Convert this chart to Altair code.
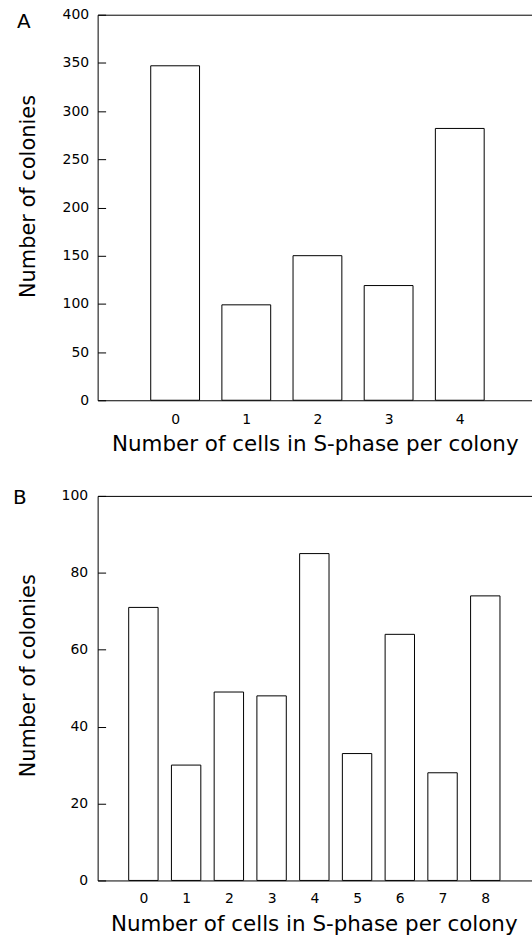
import altair as alt
import pandas as pd

# ---- data ----
cells_a = [0, 1, 2, 3, 4]
colonies_a = [347, 99, 150, 119, 282]
y_ticks_a = [0, 50, 100, 150, 200, 250, 300, 350, 400]

cells_b = [0, 1, 2, 3, 4, 5, 6, 7, 8]
colonies_b = [71, 30, 49, 48, 85, 33, 64, 28, 74]
y_ticks_b = [0, 20, 40, 60, 80, 100]

x_title = "Number of cells in S-phase per colony"
y_title = "Number of colonies"

FONT = "DejaVu Sans"
PLOT_W = 437


def panel(cells, counts, xdomain, ydomain, yticks, height, bar_size, letter,
          letter_dx, letter_dy, y_label_pad, x_label_pad, x_title_x, y_title_y):
    df = pd.DataFrame({"cells": cells, "colonies": counts})
    bars = (
        alt.Chart(df)
        .mark_bar(size=bar_size, fill="white", stroke="black", strokeWidth=1)
        .encode(
            x=alt.X(
                "cells:Q",
                scale=alt.Scale(domain=xdomain, nice=False, zero=False),
                axis=alt.Axis(
                    values=cells, format="d", title=x_title,
                    domain=False, ticks=False, tickSize=0, grid=False,
                    labelFlush=False, labelOverlap=False,
                    labelPadding=x_label_pad, labelFont=FONT, labelFontSize=14,
                    labelColor="black",
                    titleFont=FONT, titleFontSize=21.5, titleFontWeight="normal",
                    titleColor="black", titleX=x_title_x, titleY=50,
                    titleBaseline="alphabetic", titleAlign="center",
                ),
            ),
            y=alt.Y(
                "colonies:Q",
                scale=alt.Scale(domain=ydomain, nice=False),
                axis=alt.Axis(
                    values=yticks, format="d", title=y_title,
                    domain=False, ticks=True, tickSize=8, tickColor="black",
                    tickWidth=1, offset=-8, grid=False,
                    labelOverlap=False, labelFlush=False,
                    labelPadding=y_label_pad, labelFont=FONT, labelFontSize=14,
                    labelColor="black",
                    titleFont=FONT, titleFontSize=21, titleFontWeight="normal",
                    titleColor="black", titleX=-77, titleY=y_title_y,
                    titleBaseline="middle", titleAlign="center", titleAngle=270,
                ),
            ),
        )
    )
    tag = (
        alt.Chart(pd.DataFrame({"panel": [letter]}))
        .mark_text(font=FONT, fontSize=20, color="black", align="left",
                   baseline="alphabetic")
        .encode(text="panel:N", x=alt.value(letter_dx), y=alt.value(letter_dy))
    )
    return alt.layer(bars, tag).properties(width=PLOT_W, height=height)


chart_a = panel(cells_a, colonies_a, [-1.019, 4.959], [0, 400], y_ticks_a,
                387, 49, "A", -81, 13, 9, 12.6, 218, 182)
chart_b = panel(cells_b, colonies_b, [-0.954, 9.0], [0, 100], y_ticks_b,
                386, 29.5, "B", -85, 8, 10, 11, 217, 180)

chart = (
    alt.vconcat(chart_a, chart_b, spacing=96, bounds="flush")
    .properties(
        padding={"left": 12, "top": 5, "right": -2, "bottom": 0},
        background="white",
    )
    .configure_view(stroke="black", strokeWidth=1)
)

chart.save("out.html", embed_options={"renderer": "svg", "actions": False})
